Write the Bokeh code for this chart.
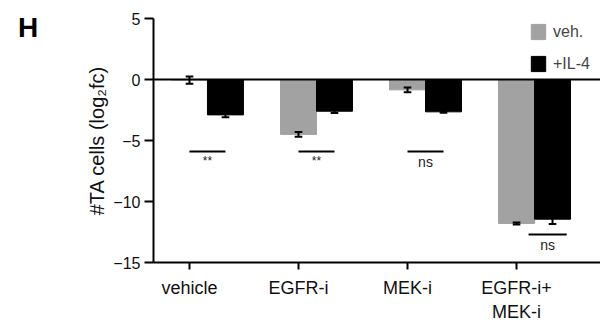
from bokeh.plotting import figure
from bokeh.models import (ColumnDataSource, Range1d, FixedTicker, Span, Div,
                          Legend, LegendItem)
from bokeh.layouts import row
from bokeh.core.properties import value
from bokeh.embed import file_html
from bokeh.resources import INLINE

# ---- data ----
categories = ["vehicle", "EGFR-i", "MEK-i", "EGFR-i+\nMEK-i"]
veh_values = [-0.05, -4.5, -0.85, -11.8]
veh_errors = [0.3, 0.2, 0.2, 0.08]
il4_values = [-2.9, -2.6, -2.65, -11.45]
il4_errors = [0.2, 0.15, 0.08, 0.4]
sig_labels = ["**", "**", "ns", "ns"]
sig_levels = [-5.9, -5.9, -5.9, -12.7]
series_names = ["veh.", "+IL-4"]
y_ticks = [5, 0, -5, -10, -15]
panel_label = "H"

FONT = "Liberation Sans"
GRAY = "#A2A2A2"
BW = 0.33

idx = list(range(len(categories)))
x_veh = [i for i in idx]
x_il4 = [i + BW for i in idx]

p = figure(width=560, height=324, output_backend="svg", toolbar_location=None,
           x_range=Range1d(-0.33, 3.77), y_range=Range1d(-15, 5),
           min_border_left=113, min_border_right=0, min_border_top=18,
           min_border_bottom=58)
p.outline_line_color = None
p.grid.visible = False
p.background_fill_color = None
p.border_fill_color = None

src_v = ColumnDataSource(dict(x=x_veh, top=[0]*4, bottom=veh_values,
                              lo=[v - e for v, e in zip(veh_values, veh_errors)],
                              hi=[v + e for v, e in zip(veh_values, veh_errors)]))
src_i = ColumnDataSource(dict(x=x_il4, top=[0]*4, bottom=il4_values,
                              lo=[v - e for v, e in zip(il4_values, il4_errors)],
                              hi=[v + e for v, e in zip(il4_values, il4_errors)]))

r_v = p.vbar(x="x", top="top", bottom="bottom", width=BW, source=src_v,
             fill_color=GRAY, line_color=GRAY)
r_i = p.vbar(x="x", top="top", bottom="bottom", width=BW, source=src_i,
             fill_color="black", line_color="black")

cap = 0.035
for src in (src_v, src_i):
    d = src.data
    p.segment(x0=d["x"], x1=d["x"], y0=d["lo"], y1=d["hi"], line_color="black", line_width=2)
    p.segment(x0=[x - cap for x in d["x"]], x1=[x + cap for x in d["x"]],
              y0=d["lo"], y1=d["lo"], line_color="black", line_width=2)
    p.segment(x0=[x - cap for x in d["x"]], x1=[x + cap for x in d["x"]],
              y0=d["hi"], y1=d["hi"], line_color="black", line_width=2)

p.add_layout(Span(location=0, dimension="width", line_color="black", line_width=2))

# significance bars
sx0 = [i for i in idx[:3]] + [idx[3] + 0.11]
sx1 = [i + BW for i in idx[:3]] + [idx[3] + 0.11 + BW + 0.02]
p.segment(x0=sx0, x1=sx1, y0=sig_levels, y1=sig_levels, line_color="black", line_width=2)
for a, b, y, t in zip(sx0, sx1, sig_levels, sig_labels):
    p.text(x=[(a + b) / 2], y=[y], text=[t], text_align="center", text_baseline="top",
           y_offset=3,
           text_font=value(FONT), text_font_size="14px" if t == "ns" else "12px",
           text_color="#222222")

# axes
p.yaxis.ticker = FixedTicker(ticks=y_ticks)
p.yaxis.minor_tick_line_color = None
p.yaxis.axis_line_width = 2
p.yaxis.major_tick_line_width = 2
p.yaxis.major_tick_out = 9
p.yaxis.major_tick_in = 0
p.yaxis.major_label_standoff = 4
p.yaxis.major_label_text_font = FONT
p.yaxis.major_label_text_font_size = "16px"
p.yaxis.major_label_text_color = "#111111"
p.yaxis.axis_label = "#TA cells (log₂fc)"
p.yaxis.axis_label_text_font = FONT
p.yaxis.axis_label_text_font_size = "20px"
p.yaxis.axis_label_text_font_style = "normal"
p.yaxis.axis_label_text_color = "#111111"
p.yaxis.axis_label_standoff = 2

p.xaxis.ticker = FixedTicker(ticks=idx)
p.xaxis.major_label_overrides = {i: c for i, c in zip(idx, categories)}
p.xaxis.minor_tick_line_color = None
p.xaxis.axis_line_width = 2
p.xaxis.major_tick_line_width = 2
p.xaxis.major_tick_out = 7
p.xaxis.major_tick_in = 0
p.xaxis.major_label_standoff = 8
p.xaxis.major_label_text_font = FONT
p.xaxis.major_label_text_font_size = "18px"
p.xaxis.major_label_text_color = "#111111"

legend = Legend(items=[LegendItem(label=series_names[0], renderers=[r_v]),
                       LegendItem(label=series_names[1], renderers=[r_i])],
                location="top_right", orientation="vertical",
                glyph_width=18, glyph_height=19, label_height=19, spacing=13,
                label_standoff=6, label_width=43, padding=0, margin=4,
                label_text_font=FONT, label_text_font_size="16px",
                border_line_color=None, background_fill_alpha=0)
p.add_layout(legend)

div = Div(text=('<div style="font-family:\'Liberation Sans\';font-size:28px;'
                'font-weight:bold;padding:12px 0 0 18px;line-height:normal;'
                'color:black;">' + panel_label + '</div>'),
          width=40, height=324, margin=0)

layout = row(div, p, spacing=0)
open("out.html", "w").write(file_html(layout, INLINE))
